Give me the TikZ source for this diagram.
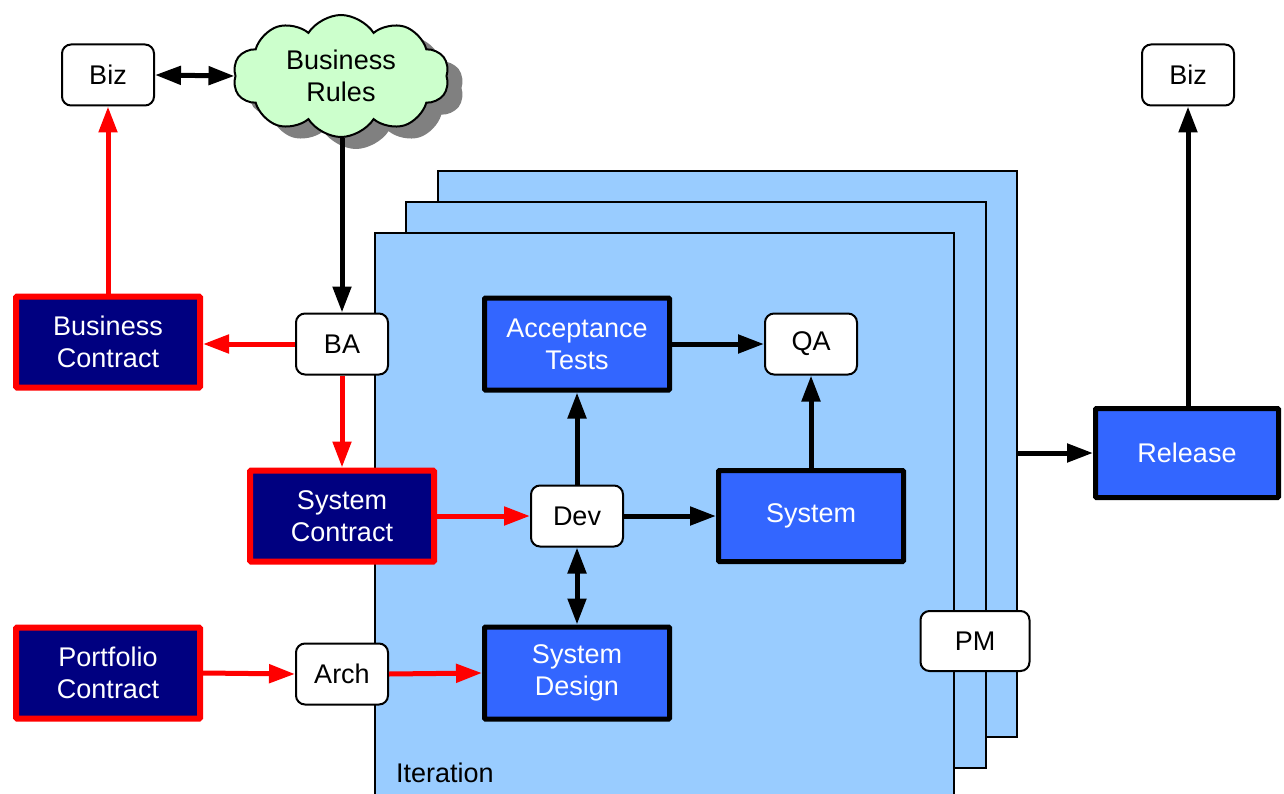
\documentclass[tikz,border=0pt]{standalone}
\usepackage{fontspec}
\setmainfont{Liberation Sans}
\usetikzlibrary{shapes.symbols,arrows.meta,shadows}
\definecolor{navyfill}{HTML}{000080}
\definecolor{contractred}{HTML}{FF0000}
\definecolor{workblue}{HTML}{3366FF}
\definecolor{pageblue}{HTML}{99CCFF}
\definecolor{cloudgreen}{HTML}{CCFFCC}
\definecolor{shadowgray}{HTML}{808080}
\begin{document}
\begin{tikzpicture}[x=1pt,y=-1pt,
  every node/.style={font=\fontsize{27}{32}\selectfont, align=center},
  plain/.style={draw=black, line width=2pt, fill=white, rounded corners=9pt,
    minimum width=92pt, minimum height=61pt, inner sep=0pt},
  contract/.style={draw=contractred, line width=6pt, fill=navyfill, text=white,
    minimum width=184pt, minimum height=91pt, inner sep=0pt, rounded corners=1pt},
  work/.style={draw=black, line width=5pt, fill=workblue, text=white,
    minimum width=185pt, minimum height=92pt, inner sep=0pt, rounded corners=1pt},
  page/.style={draw=black, line width=2pt, fill=pageblue, anchor=north west, inner sep=0pt},
  blackarrow/.style={draw=black, line width=5pt, -{Triangle[length=26pt,width=18pt]}},
  botharrow/.style={draw=black, line width=5pt, {Triangle[length=26pt,width=18pt]}-{Triangle[length=26pt,width=18pt]}},
  redarrow/.style={draw=contractred, line width=5pt, -{Triangle[length=26pt,width=18pt]}},
]
\useasboundingbox (0,0) rectangle (1284,794);

% stacked iteration pages
\node[page, minimum width=579pt, minimum height=566pt] (page3) at (437,170) {};
\node[page, minimum width=580pt, minimum height=566pt] (page2) at (405,201) {};
\node[page, minimum width=579pt, minimum height=590pt] (page1) at (374,232) {};
\node[anchor=west, inner sep=0pt] (iter) at (396,773) {Iteration};

% business rules cloud
\node[cloud, cloud puffs=10, cloud puff arc=115, cloud ignores aspect,
  minimum width=216pt, minimum height=122pt, inner sep=0pt,
  draw=black, line width=2pt, fill=cloudgreen,
  drop shadow={shadow xshift=15pt, shadow yshift=-12pt, fill=shadowgray, opacity=1}]
  (rules) at (341,76) {Business\\Rules};

% role boxes
\node[plain] (bizl) at (108,75) {Biz};
\node[plain] (bizr) at (1188,75) {Biz};
\node[plain] (ba) at (342,344) {BA};
\node[plain] (arch) at (342,674) {Arch};
\node[plain] (qa) at (811,344) {QA};
\node[plain] (dev) at (577,516) {Dev};
\node[plain, minimum width=109pt, minimum height=60pt] (pm) at (975,641) {PM};

% contracts
\node[contract] (bc) at (108,342) {Business\\Contract};
\node[contract] (sc) at (342,516) {System\\Contract};
\node[contract] (pc) at (108,673) {Portfolio\\Contract};

% work products
\node[work] (acc) at (577,344) {Acceptance\\Tests};
\node[work, minimum height=91pt] (sys) at (811,516) {System};
\node[work] (sd) at (577,673) {System\\Design};
\node[work, minimum width=183pt, minimum height=89pt] (rel) at (1187,453) {Release};

% black connectors
\draw[botharrow] (bizl.east) -- (rules.west);
\draw[blackarrow] (ba.north |- rules.south) -- (ba.north);
\draw[blackarrow] (dev.north) -- (acc.south);
\draw[blackarrow] (acc.east) -- (qa.west);
\draw[blackarrow] (dev.east) -- (sys.west);
\draw[blackarrow] (sys.north) -- (qa.south);
\draw[botharrow] (dev.south) -- (sd.north);
\draw[blackarrow] (page3.east |- rel.west) -- (rel.west);
\draw[blackarrow] (bizr.south |- rel.north) -- (bizr.south);

% red connectors
\draw[redarrow] (ba.west) -- (bc.east |- ba.west);
\draw[redarrow] (bc.north) -- (bizl.south);
\draw[redarrow] (ba.south) -- (sc.north);
\draw[redarrow] (sc.east) -- (dev.west);
\draw[redarrow] (pc.east) -- (arch.west);
\draw[redarrow] (arch.east) -- (sd.west);
\end{tikzpicture}
\end{document}
